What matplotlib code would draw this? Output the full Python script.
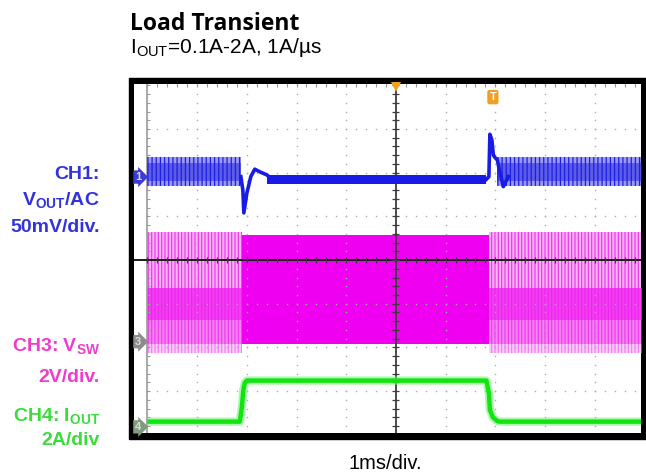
#!/usr/bin/env python3

# numpy
import numpy as np
# plotting
import matplotlib
matplotlib.use("Agg")
import matplotlib.pyplot as plt
from matplotlib.patches import Rectangle

# ---- data (units: divisions, 0 = screen centre) ----
# time base 1 ms/div, load step up / down instants
t_start = -5.0
t_end = 4.95
t_step_up = -3.10
t_step_down = 1.87

# CH1 V_OUT (AC), 50 mV/div
ch1_light_band = [1.69, 2.36]      # ripple envelope at 0.1 A
ch1_light_core = [1.80, 2.22]
ch1_heavy_band = [1.75, 1.95]      # ripple envelope at 2 A
ch1_up_t = [-3.12, -3.08, -3.06, -3.00, -2.92, -2.84, -2.74, -2.60, -2.47, -2.27]
ch1_up_v = [1.91, 1.60, 1.08, 1.53, 1.91, 2.08, 2.02, 1.95, 1.83, 1.85]
ch1_down_t = [1.82, 1.87, 1.89, 1.93, 1.96, 1.99, 2.04, 2.08, 2.13, 2.16, 2.26]
ch1_down_v = [1.85, 1.91, 2.88, 2.75, 2.40, 2.35, 2.29, 2.06, 1.83, 1.68, 1.91]

# CH3 V_SW, 2 V/div
ch3_light_band = [-2.13, 0.64]     # burst mode switching
ch3_light_core = [-1.37, -0.64]    # DCM ringing
ch3_heavy_band = [-1.92, 0.57]     # CCM switching

# CH4 I_OUT, 2 A/div
ch4_t = [-5.0, -3.14, -3.10, -3.07, -3.04, -3.00, 1.82, 1.87, 1.89, 1.95, 2.03, 2.09, 4.95]
ch4_v = [-3.70, -3.70, -3.36, -2.97, -2.81, -2.76, -2.76, -3.05, -3.43, -3.60, -3.68, -3.70, -3.70]

# channel ground markers
marker_labels = ["1", "3", "4"]
marker_levels = [1.90, -1.87, -3.82]
marker_colors = ["#3a3ad6", "#8c8c8c", "#7f9a7f"]

W, H = 646, 474

plt.rcParams['font.family'] = ['Liberation Sans', 'DejaVu Sans']
plt.rcParams['mathtext.fontset'] = 'custom'
plt.rcParams['mathtext.rm'] = 'Liberation Sans'
plt.rcParams['mathtext.bf'] = 'Liberation Sans:bold'
plt.rcParams['hatch.linewidth'] = 0.9


def fig_xy(x, y):
    # pixel position (origin top-left) -> figure fraction
    return x / W, 1 - y / H


def draw_grid(ax):
    dots = np.arange(-25, 26) * 0.2
    grey = "#ababab"
    for gx in [-4, -3, -2, -1, 1, 2, 3, 4]:
        ax.plot(np.full(dots.size, gx), dots, ls="none", marker="s", ms=1.0, mew=0, color=grey, zorder=3)
    for gy in [-3, -2, -1, 1, 2, 3]:
        ax.plot(dots, np.full(dots.size, gy), ls="none", marker="s", ms=1.0, mew=0, color=grey, zorder=3)
    # left border with ticks
    ax.axvline(-5, color="#9a9a9a", lw=1.2, zorder=3)
    ax.hlines(dots, -5, -4.94, color="#9a9a9a", lw=0.8, zorder=3)
    # top border ticks
    ax.vlines(dots, 3.95, 4.05, color="#9a9a9a", lw=0.8, zorder=3)
    # centre cross with ticks
    ax.axhline(0, color="#1a1a1a", lw=1.4, zorder=4)
    ax.axvline(0, color="#3c3c3c", lw=1.3, zorder=4)
    ax.vlines(dots, -0.07, 0.07, color="#3c3c3c", lw=0.9, zorder=4)
    ax.hlines(dots, -0.07, 0.07, color="#3c3c3c", lw=0.9, zorder=4)


def main():
    fig = plt.figure(figsize=(W / 100, H / 100), dpi=100)
    # black bezel
    fig.add_artist(Rectangle(fig_xy(129, 439), 517 / W, 361 / H, transform=fig.transFigure,
                             color="black", zorder=-1))
    x0, y0 = fig_xy(134, 433)
    ax = fig.add_axes([x0, y0, 507 / W, 349 / H])
    ax.set_xlim(-5.27, 4.93)
    ax.set_ylim(-3.96, 4.03)
    ax.set_xticks([])
    ax.set_yticks([])
    for spine in ax.spines.values():
        spine.set_visible(False)

    draw_grid(ax)

    # CH3 switch node
    for ta, tb in [(t_start, t_step_up), (t_step_down, t_end)]:
        t = [ta, tb]
        ax.fill_between(t, *ch3_light_band, facecolor="#f8b6f4", edgecolor="#ee3cee",
                        hatch="|||||", lw=0, zorder=2)
        ax.fill_between(t, ch3_light_band[0], ch3_heavy_band[0], color="#ffffff", alpha=0.35, lw=0, zorder=2)
        ax.fill_between(t, ch3_heavy_band[0], ch3_light_core[0], color="#f040f0", alpha=0.45, lw=0, zorder=2)
        ax.fill_between(t, *ch3_light_core, color="#f020f0", alpha=0.8, lw=0, zorder=2)
    ax.fill_between([t_step_up, t_step_down], *ch3_heavy_band, color="#f000f0", lw=0, zorder=2)

    # CH1 output voltage
    for ta, tb in [(t_start, ch1_up_t[0]), (ch1_down_t[6], t_end)]:
        t = [ta, tb]
        ax.fill_between(t, *ch1_light_band, facecolor="#9a9af4", edgecolor="#1e1ee0",
                        hatch="||||", lw=0, zorder=5)
        ax.fill_between(t, *ch1_light_core, color="#2020e0", alpha=0.5, lw=0, zorder=5)
    ax.fill_between([ch1_up_t[-3], ch1_down_t[0]], *ch1_heavy_band, color="#1a1ae6", lw=0, zorder=5)
    ax.plot(ch1_up_t, ch1_up_v, color="#1a1ae6", lw=2.6, zorder=6)
    ax.plot(ch1_down_t, ch1_down_v, color="#1a1ae6", lw=2.6, zorder=6)

    # CH4 load current
    ax.plot(ch4_t, ch4_v, color="#7af07a", lw=6, alpha=0.6, zorder=5, solid_capstyle="butt")
    ax.plot(ch4_t, ch4_v, color="#12e412", lw=3.2, zorder=6, solid_capstyle="butt")

    # channel markers
    for label, level, color in zip(marker_labels, marker_levels, marker_colors):
        ax.text(-5.19, level, label, ha="center", va="center", fontsize=8, color="#dadada",
                fontweight="bold", zorder=8,
                bbox=dict(boxstyle="rarrow,pad=0.15", fc=color, ec="none"))
    # trigger markers
    ax.plot(0, 3.95, marker="v", ms=7, color="#f0a020", mew=0, zorder=8, clip_on=False)
    ax.text(1.95, 3.73, "T", ha="center", va="center", fontsize=8, color="white", fontweight="bold",
            zorder=8, bbox=dict(boxstyle="round,pad=0.2", fc="#f0a020", ec="none"))

    # titles
    fig.text(*fig_xy(130, 30), "Load Transient", fontsize=16.5, fontweight="bold",
             family=["Open Sans", "DejaVu Sans"], ha="left", va="baseline")
    fig.text(*fig_xy(130, 53), r"I$_{\mathrm{OUT}}$=0.1A-2A, 1A/µs", fontsize=15,
             ha="left", va="baseline")
    fig.text(*fig_xy(385, 469), "1ms/div.", fontsize=14.5, ha="center", va="baseline")

    # channel labels
    blue, pink, green = "#3232dc", "#ee3ccc", "#3cdc3c"
    labels = [
        ("CH1:", 179, blue),
        (r"V$_{\mathbf{OUT}}$/AC", 206, blue),
        ("50mV/div.", 232, blue),
        (r"CH3: V$_{\mathbf{SW}}$", 352, pink),
        ("2V/div.", 382, pink),
        (r"CH4: I$_{\mathbf{OUT}}$", 422, green),
        ("2A/div", 445, green),
    ]
    for text, y, color in labels:
        fig.text(*fig_xy(100, y), text, fontsize=14, fontweight="bold", color=color,
                 ha="right", va="baseline")

    fig.savefig("out.png", dpi=100)


if __name__ == '__main__':
    main()
